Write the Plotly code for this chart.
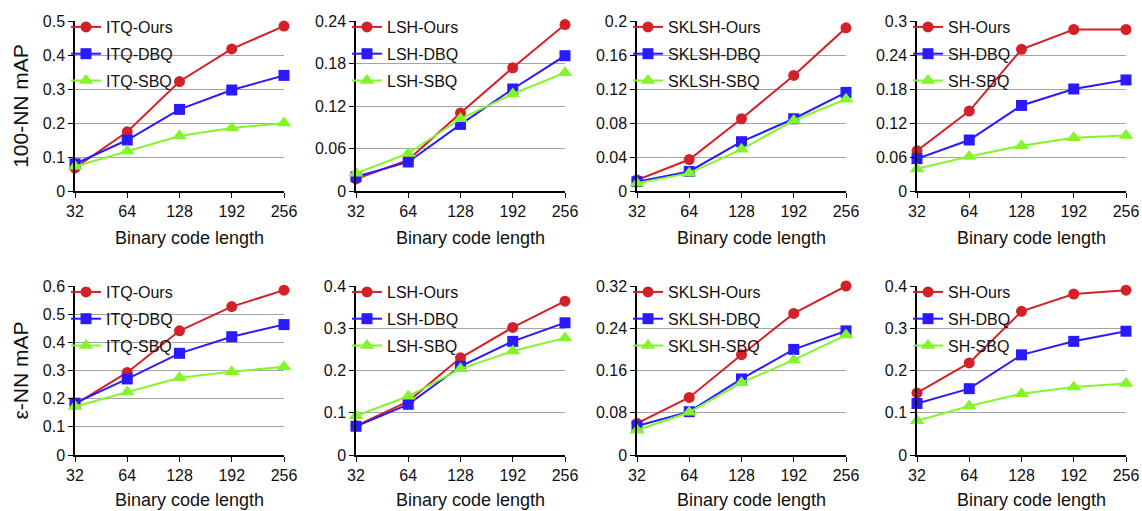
import plotly.graph_objects as go

codes = ["32", "64", "128", "192", "256"]
methods = ["ITQ", "LSH", "SKLSH", "SH"]
suffixes = ["Ours", "DBQ", "SBQ"]

# 100-NN mAP (top row)
itq_100 = {"Ours": [0.068, 0.174, 0.322, 0.418, 0.485],
           "DBQ": [0.080, 0.150, 0.240, 0.297, 0.340],
           "SBQ": [0.072, 0.118, 0.162, 0.185, 0.200]}
lsh_100 = {"Ours": [0.017, 0.044, 0.110, 0.174, 0.235],
           "DBQ": [0.020, 0.041, 0.094, 0.144, 0.191],
           "SBQ": [0.025, 0.053, 0.102, 0.137, 0.167]}
sklsh_100 = {"Ours": [0.013, 0.037, 0.085, 0.136, 0.192],
             "DBQ": [0.011, 0.023, 0.058, 0.085, 0.116],
             "SBQ": [0.009, 0.021, 0.049, 0.083, 0.108]}
sh_100 = {"Ours": [0.071, 0.141, 0.250, 0.285, 0.285],
          "DBQ": [0.057, 0.090, 0.151, 0.180, 0.196],
          "SBQ": [0.039, 0.061, 0.080, 0.094, 0.098]}

# eps-NN mAP (bottom row)
itq_eps = {"Ours": [0.180, 0.293, 0.441, 0.527, 0.585],
           "DBQ": [0.184, 0.270, 0.361, 0.420, 0.463],
           "SBQ": [0.172, 0.224, 0.274, 0.296, 0.313]}
lsh_eps = {"Ours": [0.069, 0.127, 0.230, 0.302, 0.364],
           "DBQ": [0.068, 0.120, 0.210, 0.269, 0.313],
           "SBQ": [0.093, 0.139, 0.204, 0.246, 0.277]}
sklsh_eps = {"Ours": [0.060, 0.109, 0.190, 0.268, 0.320],
             "DBQ": [0.055, 0.082, 0.144, 0.200, 0.235],
             "SBQ": [0.047, 0.081, 0.137, 0.180, 0.227]}
sh_eps = {"Ours": [0.147, 0.218, 0.340, 0.381, 0.390],
          "DBQ": [0.122, 0.157, 0.237, 0.269, 0.293],
          "SBQ": [0.081, 0.116, 0.145, 0.161, 0.169]}

top_data = [itq_100, lsh_100, sklsh_100, sh_100]
bot_data = [itq_eps, lsh_eps, sklsh_eps, sh_eps]
top_ticks = [[0, 0.1, 0.2, 0.3, 0.4, 0.5], [0, 0.06, 0.12, 0.18, 0.24],
             [0, 0.04, 0.08, 0.12, 0.16, 0.2], [0, 0.06, 0.12, 0.18, 0.24, 0.3]]
bot_ticks = [[0, 0.1, 0.2, 0.3, 0.4, 0.5, 0.6], [0, 0.1, 0.2, 0.3, 0.4],
             [0, 0.08, 0.16, 0.24, 0.32], [0, 0.1, 0.2, 0.3, 0.4]]
xtitle = "Binary code length"

colors = {"Ours": "#d42028", "DBQ": "#2a1aff", "SBQ": "#84f52a"}
symbols = {"Ours": "circle", "DBQ": "square", "SBQ": "triangle-up"}
msize = {"Ours": 11, "DBQ": 11, "SBQ": 13}

W, H = 1142, 511
xl = [75, 356, 637, 917]
pw = 209
rows_px = [(21, 191), (286, 455)]
legend_top = [10, 275]
xtitle_y = [238, 500]
FONT = "Liberation Sans, Arial, sans-serif"

fig = go.Figure()
layout = {}
annotations = []
for r in range(2):
    data = top_data if r == 0 else bot_data
    ticks = top_ticks if r == 0 else bot_ticks
    ytitle = "100-NN mAP" if r == 0 else "ε-NN mAP"
    t, b = rows_px[r]
    for c in range(4):
        k = r * 4 + c + 1
        xa = "x" if k == 1 else f"x{k}"
        ya = "y" if k == 1 else f"y{k}"
        lg = "legend" if k == 1 else f"legend{k}"
        for s in suffixes:
            fig.add_trace(go.Scatter(
                x=codes, y=data[c][s], mode="lines+markers",
                name=f"{methods[c]}-{s}", legendgroup=f"{k}-{s}",
                line=dict(color=colors[s], width=2),
                marker=dict(symbol=symbols[s], size=msize[s], color=colors[s]),
                xaxis=xa, yaxis=ya, legend=lg, cliponaxis=False))
        xname = "xaxis" if k == 1 else f"xaxis{k}"
        yname = "yaxis" if k == 1 else f"yaxis{k}"
        layout[xname] = dict(
            domain=[xl[c] / W, (xl[c] + pw) / W], anchor=ya, type="category",
            range=[0, 4], showgrid=False, showline=True, linecolor="black",
            linewidth=1.5, ticks="outside", ticklen=5, tickcolor="black",
            tickfont=dict(size=16, family=FONT, color="#111"), automargin=False,
            zeroline=False)
        annotations.append(dict(
            text=xtitle, xref="paper", yref="paper",
            x=(xl[c] + pw / 2 + 10) / W, y=1 - xtitle_y[r] / H,
            xanchor="center", yanchor="middle", showarrow=False,
            font=dict(size=18, family=FONT, color="#111")))
        layout[yname] = dict(
            domain=[1 - b / H, 1 - t / H], anchor=xa, automargin=False,
            range=[0, ticks[c][-1]], tickvals=ticks[c],
            ticktext=[("%g" % v) for v in ticks[c]],
            showgrid=True, gridcolor="#a4a4a4", gridwidth=1,
            showline=True, linecolor="black", linewidth=1.5,
            ticks="outside", ticklen=5, tickcolor="black",
            tickfont=dict(size=16, family=FONT, color="#111"),
            zeroline=False,
            title=dict(text=ytitle if c == 0 else "",
                       font=dict(size=21, family=FONT, color="#111"), standoff=8))
        layout[lg] = dict(
            x=(xl[c] - 9) / W, y=1 - legend_top[r] / H, xanchor="left", yanchor="top",
            bgcolor="rgba(0,0,0,0)", font=dict(size=16, family=FONT, color="#111"),
            itemwidth=30, tracegroupgap=3)

fig.update_layout(**layout)
fig.update_layout(width=W, height=H, margin=dict(l=0, r=0, t=0, b=0),
                  plot_bgcolor="white", paper_bgcolor="white", showlegend=True,
                  annotations=annotations)
fig.write_html("out.html")
